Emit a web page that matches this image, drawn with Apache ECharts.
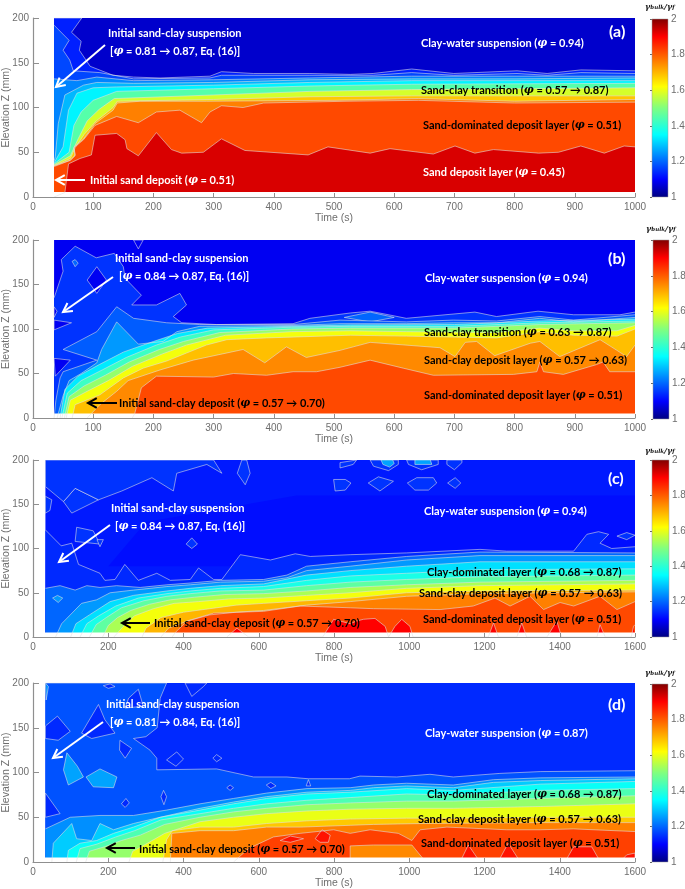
<!DOCTYPE html>
<html><head><meta charset="utf-8">
<style>html,body{margin:0;padding:0;background:#fff}#c{width:685px;height:889px}</style>
<script src="https://cdn.jsdelivr.net/npm/echarts@6/dist/echarts.min.js"></script>
</head><body><div id="c"></div>
<script>
// ---------- colour scale ----------
const colorStops = [[1,'#000080'],[1.1,'#0000ff'],[1.35,'#00ffff'],[1.5,'#80ff80'],[1.62,'#ffff00'],[1.9,'#ff0000'],[2,'#800000']];
const barTicks = [1,1.2,1.4,1.6,1.8,2];

// ---------- panel (a): contour elevation Z(t) ----------
const A_1=[[35,200],[81,200],[64,184],[80,174],[77,164],[90,151],[95,146],[133,136],[167,134],[211,133],[294,135],[313,140],[366,138],[460,138],[527,137],[565,138],[629,143],[699,138],[804,141],[854,138],[910,142],[1000,141]];
const A_2=[[35,192],[60,175],[50,164],[61,153],[67,141],[111,139],[167,132],[294,133],[313,136],[460,136],[565,136],[629,139],[699,136],[804,138],[854,136],[910,139],[1000,138]];
const A_3=[[35,132],[73,130],[106,134],[167,130],[300,131],[460,133],[629,135],[804,135],[1000,135]];
const A_4=[[35,40],[37,45],[42,82],[53,114],[84,125],[106,128],[167,127],[300,128],[460,131],[629,132],[804,132],[1000,133]];
const A_5=[[35,38],[50,56],[59,97],[73,116],[100,122],[139,123],[300,125],[460,128],[629,130],[804,130],[1000,130]];
const A_6=[[35,37],[60,50],[68,80],[80,95],[100,108],[139,118],[300,121],[460,124],[629,126],[1000,127]];
const A_7=[[35,36],[62,46],[75,65],[90,85],[110,98],[135,110],[300,114],[460,118],[629,120],[1000,122]];
const A_8=[[35,35],[62,43],[70,55],[85,70],[105,85],[133,100],[140,107],[300,109],[460,112],[629,113],[1000,113]];
const A_9=[[35,35],[62,41],[70,47],[68,56],[84,65],[103,82],[133,97],[140,105],[178,107],[288,107],[500,108],[640,110],[800,107],[1000,109]];
const A_10=[[35,34],[62,41],[70,46],[68,55],[84,64],[103,80],[139,90],[175,83],[205,95],[244,97],[280,83],[294,95],[313,102],[349,100],[383,105],[520,107],[640,108],[800,105],[1000,106]];
const A_11=[[35,0],[53,5],[59,37],[78,43],[97,47],[103,69],[139,71],[153,64],[156,54],[175,46],[205,72],[230,53],[247,49],[283,50],[313,65],[352,52],[457,47],[490,56],[510,54],[560,49],[593,54],[665,48],[701,57],[734,49],[765,53],[840,49],[873,50],[910,57],[949,49],[982,57],[1000,56]];
const layersA=[[1.13,A_1],[1.17,A_2],[1.23,A_3],[1.28,A_4],[1.34,A_5],[1.45,A_6],[1.58,A_7],[1.68,A_8],[1.76,A_9],[1.82,A_10],[1.93,A_11]];

// ---------- panel (b) ----------
const B_1=[[35,135],[50,165],[47,178],[70,193],[105,180],[135,185],[150,170],[153,157],[180,138],[164,127],[205,127],[244,140],[255,127],[233,114],[247,107],[305,105],[432,106],[460,112],[527,118],[560,120],[598,115],[620,112],[734,119],[770,114],[839,120],[898,116],[975,116],[1000,119]];
const B_holes=[[[90,155],[106,170],[122,155],[106,140]],[[167,200],[183,200],[175,190]],[[35,110],[64,107],[35,99]],[[35,67],[62,65],[37,47]],[[35,125],[40,120],[35,113]]];
const B_lobes=[[[517,113],[560,119],[600,113],[560,108]],[[535,106],[554,107],[573,106],[554,104]],[[65,176],[70,178],[75,174],[70,170]]];
const B_2=[[35,0],[38,20],[45,45],[50,52],[106,65],[50,77],[106,97],[139,125],[167,112],[222,107],[277,105],[432,105],[510,110],[620,108],[698,110],[770,109],[842,114],[898,110],[1000,116]];
const B_3=[[40,0],[50,25],[60,42],[80,50],[106,62],[114,77],[139,108],[175,83],[216,86],[239,97],[277,103],[432,104],[510,106],[620,106],[698,107],[770,107],[842,112],[898,108],[1000,113]];
const B_4=[[45,0],[53,32],[75,47],[110,60],[150,74],[200,86],[240,95],[290,101],[430,103],[527,104.5],[700,105],[842,109],[1000,111]];
const B_5=[[48,0],[57,28],[80,42],[115,54],[155,68],[205,82],[245,91],[300,99],[430,102],[527,103],[700,103],[842,107],[1000,109]];
const B_6=[[52,0],[60,24],[85,36],[120,48],[160,63],[210,77],[250,86],[310,96],[430,100],[527,101],[700,101],[842,105],[1000,107]];
const B_7=[[55,0],[62,20],[90,30],[125,42],[165,58],[215,72],[255,82],[320,93],[430,97],[527,98],[620,97],[770,96],[842,101],[898,98],[970,98],[1000,104]];
const B_8=[[65,0],[70,15],[111,26],[150,45],[183,56],[222,64],[255,73],[288,82],[322,88],[388,90],[527,93],[620,92],[770,90],[842,97],[898,93],[970,92],[1000,100]];
const B_9=[[90,0],[111,15],[139,30],[158,42],[211,54],[266,65],[349,77],[385,62],[421,80],[454,68],[510,76],[560,85],[676,79],[701,69],[718,85],[737,86],[767,70],[826,84],[842,86],[875,69],[942,88],[970,76],[986,69],[1000,82]];
const B_10=[[165,0],[169,5],[180,34],[205,47],[300,46],[333,50],[388,48],[432,52],[471,52],[510,57],[560,65],[615,56],[665,48],[798,49],[837,52],[842,63],[848,52],[881,49],[936,60],[947,63],[958,52],[1000,52]];
const layersB=[[1.15,B_1],[1.09,B_holes,1],[1.2,B_lobes,1],[1.19,B_2],[1.25,B_3],[1.33,B_4],[1.42,B_5],[1.52,B_6],[1.61,B_7],[1.69,B_8],[1.75,B_9],[1.82,B_10]];

// ---------- panel (c) ----------
const C_shade=[[200,80],[1600,80],[1600,160],[700,160],[300,130]];
const C_1=[[33,121],[75,103],[103,106],[121,82],[178,72],[191,64],[218,65],[244,82],[280,64],[329,72],[365,64],[418,65],[440,78],[480,65],[502,65],[551,93],[631,87],[697,94],[737,91],[843,93],[993,95],[1188,99],[1259,97],[1437,97],[1472,116],[1503,119],[1530,116],[1507,106],[1538,100],[1600,102]];
const C_blobs=[[[81,153],[112,168],[174,155],[103,140]],[[174,155],[236,165],[316,180],[373,165],[382,185],[462,195],[502,185],[480,200],[33,200],[33,170],[81,153],[112,168]],[[33,159],[50,155],[45,143],[33,140]],[[116,124],[160,120],[178,105],[112,108]],[[170,110],[187,110],[178,102]],[[422,112],[437,105],[422,100],[407,105]],[[568,200],[577,185],[564,172],[543,185],[555,200]],[[816,197],[860,200],[851,195],[816,191]],[[896,200],[905,193],[945,188],[971,195],[971,200]],[[993,200],[998,195],[1033,189],[1077,195],[1077,200]],[[1100,200],[1100,195],[1120,189],[1140,197],[1140,200]],[[799,178],[830,178],[845,174],[830,166],[803,165]],[[891,174],[918,181],[958,176],[922,165]],[[995,174],[1020,180],[1064,180],[1073,174],[1051,166],[1015,166]],[[1102,174],[1122,180],[1137,174],[1122,168]],[[1552,114],[1578,118],[1600,115],[1578,110]]];
const C_spots=[[[925,200],[930,195],[948,192],[960,196],[956,200]],[[1015,200],[1015,195],[1060,195],[1056,200]]];
const C_2=[[33,55],[72,58],[112,53],[143,58],[178,56],[222,58],[285,56],[356,59],[418,61],[498,64],[613,65],[675,70],[727,80],[843,85],[993,91],[1188,96],[1600,95]];
const C_3=[[60,0],[76,15],[129,38],[169,42],[205,50],[267,53],[356,57],[418,59],[498,62],[613,63],[675,67],[727,75],[843,80],[993,87],[1188,92],[1600,92]];
const C_spot2=[[[52,44],[65,47],[79,44],[67,39]]];
const C_4=[[100,0],[114,15],[150,25],[205,40],[267,47],[356,52],[418,55],[498,58],[613,60],[727,70],[843,75],[993,80],[1188,85],[1600,85]];
const C_5=[[125,0],[143,15],[175,24],[220,35],[280,44],[356,49],[418,52],[498,55],[613,57],[727,64],[843,69],[993,72],[1188,76],[1600,77]];
const C_6=[[150,0],[168,14],[195,22],[235,33],[295,41],[356,46],[418,49],[498,52],[613,53],[727,58],[843,62],[993,65],[1188,68],[1600,70]];
const C_7=[[185,0],[200,13],[225,22],[260,30],[310,37],[365,42],[430,45],[510,48],[613,49],[727,52],[843,56],[993,59],[1188,62],[1600,64]];
const C_8=[[215,0],[240,12],[270,24],[320,32],[375,38],[440,40],[520,43],[613,44],[727,47],[843,50],[993,55],[1188,58],[1600,60]];
const C_9=[[290,0],[300,10],[340,22],[400,28],[470,32],[540,36],[613,38],[727,41],[843,44],[993,50],[1188,52],[1600,53]];
const C_10=[[340,0],[360,10],[410,18],[470,25],[540,28],[613,30],[727,36],[843,40],[993,46],[1188,49],[1600,51]];
const C_11=[[370,0],[378,5],[409,18],[480,27],[613,29],[710,35],[843,33],[905,32],[1082,31],[1170,35],[1228,44],[1268,35],[1321,46],[1357,31],[1401,39],[1437,35],[1507,46],[1552,31],[1600,40]];
const C_12=[[515,0],[542,10],[573,0],[770,0],[799,20],[843,15],[860,18],[878,20],[909,21],[936,12],[945,0],[950,0],[962,12],[980,20],[1002,12],[1010,0],[1210,0],[1224,16],[1237,0],[1286,0],[1299,16],[1312,0],[1366,0],[1392,18],[1405,0],[1499,0],[1507,14],[1521,0],[1590,0],[1596,12],[1600,14]];
const layersC=[[1.113,[C_shade],2],[1.14,C_1],[1.15,C_blobs,1],[1.26,C_spots,1],[1.2,C_2],[1.25,C_3],[1.25,C_spot2,1],[1.32,C_4],[1.38,C_5],[1.46,C_6],[1.54,C_7],[1.61,C_8],[1.7,C_9],[1.76,C_10],[1.82,C_11],[1.9,C_12]];

// ---------- panel (d) ----------
const D_1=[[33,200],[355,200],[338,183],[330,150],[300,140],[267,138],[311,125],[329,116],[329,103],[488,104],[586,95],[675,95],[732,93],[841,93],[869,96],[967,95],[1055,98],[1117,95],[1241,99],[1348,101],[1600,102]];
const D_holes=[[[33,152],[65,163],[99,146],[67,136],[33,138]],[[129,144],[174,176],[191,159],[218,144],[156,138]],[[231,136],[262,127],[245,116],[230,125]],[[33,77],[72,54],[33,50]],[[355,114],[382,123],[400,115],[380,107]],[[478,116],[488,120],[502,116],[488,112]],[[247,71],[235,65],[245,61],[256,66]],[[347,80],[340,73],[348,64],[355,73]],[[515,83],[524,86],[533,83],[524,80]],[[620,86],[632,89],[646,85],[632,82]],[[726,85],[732,92],[738,85]],[[187,197],[205,199],[218,196],[200,194]],[[254,183],[280,193],[293,174],[245,172]],[[404,200],[422,185],[453,196],[462,200]]];
const D_lobes=[[[81,103],[90,122],[118,107],[134,95],[94,86]],[[141,95],[178,104],[223,95],[214,83],[160,84]]];
const D_corner=[[[33,200],[41,196],[35,181]]];
const D_2=[[33,37],[99,50],[178,52],[267,52],[355,58],[444,65],[533,71],[621,77],[728,82],[843,83],[905,86],[993,88],[1117,86],[1224,92],[1348,94],[1600,95]];
const D_3=[[50,0],[54,21],[103,43],[116,26],[156,24],[178,43],[214,36],[267,43],[338,50],[444,60],[533,67],[621,73],[728,78],[843,80],[905,83],[993,85],[1117,83],[1224,89],[1348,91],[1600,93]];
const D_4=[[90,0],[94,13],[125,21],[169,24],[214,32],[267,39],[338,50],[444,58],[533,65],[621,71],[728,76],[843,78],[993,82],[1117,80],[1348,87],[1600,90]];
const D_5=[[115,0],[125,15],[170,20],[220,28],[270,35],[340,47],[444,54],[533,60],[621,65],[728,69],[843,72],[993,76],[1117,75],[1348,80],[1600,82]];
const D_6=[[140,0],[150,12],[190,17],[235,24],[285,30],[350,42],[444,50],[533,56],[621,60],[728,64],[843,66],[993,68],[1117,68],[1348,71],[1600,74]];
const D_7=[[255,0],[265,12],[300,20],[350,32],[444,45],[533,50],[621,54],[728,57],[843,59],[993,60],[1117,60],[1348,62],[1600,65]];
const D_8=[[345,0],[355,25],[370,35],[444,39],[533,39],[621,43],[728,46],[843,48],[993,49],[1117,49],[1348,50],[1600,50]];
const D_9=[[365,0],[369,32],[444,35],[533,35],[621,39],[710,39],[843,41],[905,42],[1038,43],[1348,44],[1600,44]];
const D_10=[[533,0],[573,15],[639,28],[710,32],[799,36],[843,32],[896,36],[971,32],[1007,24],[1029,36],[1100,39],[1259,36],[1348,36],[1437,37],[1600,34]];
const D_under=[[[843,18],[905,19],[1007,19],[1040,2],[843,2]]];
const D_red=[[[1135,0],[1157,19],[1188,0]],[[1236,0],[1263,21],[1295,0]],[[1414,0],[1437,17],[1485,17],[1508,0]],[[1560,0],[1578,8],[1600,10],[1600,0]],[[657,24],[684,29],[719,26],[684,22]],[[750,26],[768,36],[790,30],[785,22],[763,22]]];
const layersD=[[1.18,D_1],[1.14,D_holes,1],[1.26,D_lobes,1],[1.24,D_corner,1],[1.24,D_2],[1.3,D_3],[1.36,D_4],[1.44,D_5],[1.52,D_6],[1.6,D_7],[1.68,D_8],[1.76,D_9],[1.83,D_10],[1.75,D_under,1],[1.88,D_red,1]];

// ---------- labels ----------
const white='#ffffff', black='#000000';
const notesA=[['Initial sand-clay suspension',108,33,white],['[{p|φ} = 0.81 → 0.87, Eq. (16)]',110,51,white],['Initial sand deposit ({p|φ} = 0.51)',90,180,white],['Clay-water suspension ({p|φ} = 0.94)',421,43,white],['Sand-clay transition ({p|φ} = 0.57 → 0.87)',421,90,black],['Sand-dominated deposit layer ({p|φ} = 0.51)',423,125,black],['Sand deposit layer ({p|φ} = 0.45)',423,172,white]];
const notesB=[['Initial sand-clay suspension',115,258,white],['[{p|φ} = 0.84 → 0.87, Eq. (16)]',119,276,white],['Initial sand-clay deposit ({p|φ} = 0.57 → 0.70)',119,403,black],['Clay-water suspension ({p|φ} = 0.94)',425,278,white],['Sand-clay transition ({p|φ} = 0.63 → 0.87)',424,332,black],['Sand-clay deposit layer ({p|φ} = 0.57 → 0.63)',424,360,black],['Sand-dominated deposit layer ({p|φ} = 0.51)',424,395,black]];
const notesC=[['Initial sand-clay suspension',111,508,white],['[{p|φ} = 0.84 → 0.87, Eq. (16)]',115,526,white],['Initial sand-clay deposit ({p|φ} = 0.57 → 0.70)',154,623,black],['Clay-water suspension ({p|φ} = 0.94)',424,511,white],['Clay-dominated layer ({p|φ} = 0.68 → 0.87)',427,572,black],['Sand-clay deposit layer ({p|φ} = 0.57 → 0.63)',419,593,black],['Sand-dominated deposit layer ({p|φ} = 0.51)',423,619,black]];
const notesD=[['Initial sand-clay suspension',106,704,white],['[{p|φ} = 0.81 → 0.84, Eq. (16)]',110,722,white],['Initial sand-clay deposit ({p|φ} = 0.57 → 0.70)',139,849,black],['Clay-water suspension ({p|φ} = 0.87)',425,733,white],['Clay-dominated layer ({p|φ} = 0.68 → 0.87)',427,794,black],['Sand-clay deposit layer ({p|φ} = 0.57 → 0.63)',418,819,black],['Sand-dominated deposit layer ({p|φ} = 0.51)',421,843,black]];
const arrowsAll=[[105,45,56,87,white],[85,180,56,180,white],[113,277,63,312,white],[117,403,88,403,black],[110,525,59,562,white],[150,623,122,623,black],[103,722,53,758,white],[135,848,107,848,black]];

const panels=[
 {name:'(a)',top:18,h:179,xMax:1000,xStep:100,base:1.06,t0:35,floor:5.5,layers:layersA,notes:notesA,tag:[609,32],bar:[652,19,16,178],hdr:[645,7]},
 {name:'(b)',top:240,h:178,xMax:1000,xStep:100,base:1.09,t0:35,floor:5,layers:layersB,notes:notesB,tag:[608,259],bar:[653,240,16,179],hdr:[646,229]},
 {name:'(c)',top:460,h:177,xMax:1600,xStep:200,base:1.125,t0:33,floor:5,layers:layersC,notes:notesC,tag:[608,479],bar:[652,460,17,177],hdr:[645,451]},
 {name:'(d)',top:683,h:179,xMax:1600,xStep:200,base:1.14,t0:33,floor:5,layers:layersD,notes:notesD,tag:[608,705],bar:[652,684,16,178],hdr:[645,673]}
];

// ---------- helpers ----------
function hex(c){return [1,3,5].map(i=>parseInt(c.substr(i,2),16));}
function colorOf(v){
  for(let i=1;i<colorStops.length;i++){
    if(v<=colorStops[i][0]){
      const [a,ca]=colorStops[i-1],[b,cb]=colorStops[i],f=(v-a)/(b-a);
      const A=hex(ca),B=hex(cb);
      return 'rgb('+A.map((x,k)=>Math.round(x+(B[k]-x)*f)).join(',')+')';
    }
  }
  return colorStops[colorStops.length-1][1];
}
const lineCol='rgba(226,226,226,0.72)';
const axisCol='#8f8f8f', labCol='#6e6e6e';
const grids=[],xAxes=[],yAxes=[],series=[],graphics=[];

function polySeries(idx,fill,polys,noStroke){
  return {type:'custom',z:3,xAxisIndex:idx,yAxisIndex:idx,clip:true,silent:true,
    data:polys.map((_,i)=>[i]),
    renderItem:(p,api)=>({type:'polygon',shape:{points:polys[api.value(0)].map(q=>api.coord(q))},
      style:{fill:colorOf(fill),stroke:noStroke?null:lineCol,lineWidth:0.8}})};
}
function lineSeries(idx,fill,pts,noLine){
  return {type:'line',z:3,xAxisIndex:idx,yAxisIndex:idx,data:pts,showSymbol:false,symbol:'none',silent:true,clip:true,
    smooth:false,lineStyle:noLine?{width:0,opacity:0}:{color:lineCol,width:0.8},
    areaStyle:{color:colorOf(fill),opacity:1,origin:'start'},itemStyle:{color:colorOf(fill)}};
}

panels.forEach((P,i)=>{
  grids.push({left:33,width:602,top:P.top,height:P.h,containLabel:false,outerBoundsMode:'none'});
  xAxes.push({type:'value',gridIndex:i,min:0,max:P.xMax,interval:P.xStep,z:6,
    name:'Time (s)',nameLocation:'middle',nameGap:16,nameMoveOverlap:false,nameTextStyle:{color:labCol,fontSize:10.5,fontFamily:'Liberation Sans'},
    axisLine:{onZero:false,lineStyle:{color:axisCol,width:1.2}},axisTick:{inside:true,length:4,lineStyle:{color:axisCol}},
    axisLabel:{color:labCol,fontSize:10,fontFamily:'Liberation Sans',margin:5,formatter:v=>String(v)},splitLine:{show:false}});
  yAxes.push({type:'value',gridIndex:i,min:0,max:200,interval:50,z:6,
    name:'Elevation Z (mm)',nameLocation:'middle',nameGap:21,nameRotate:90,nameMoveOverlap:false,nameTextStyle:{color:labCol,fontSize:10.5,fontFamily:'Liberation Sans'},
    axisLine:{onZero:false,lineStyle:{color:axisCol,width:1.2}},axisTick:{inside:true,length:6,lineStyle:{color:axisCol}},
    axisLabel:{color:labCol,fontSize:10,fontFamily:'Liberation Sans',margin:4},splitLine:{show:false}});
  // background band, then contours from lowest to highest value
  series.push(lineSeries(i,P.base,[[P.t0,200],[P.xMax,200]],true));
  P.layers.forEach(l=>{
    if(l[2]) series.push(polySeries(i,l[0],l[1],l[2]===2));
    else series.push(lineSeries(i,l[0],l[1]));
  });
  // data stop just above the bottom of the tank
  series.push({type:'custom',z:3,xAxisIndex:i,yAxisIndex:i,silent:true,clip:true,data:[[0]],
    renderItem:(p,api)=>{
      const a=api.coord([0,P.floor]),b=api.coord([P.xMax,0]);
      return {type:'rect',shape:{x:a[0],y:a[1],width:b[0]-a[0]+1,height:b[1]-a[1]},style:{fill:'#fff'}};
    }});
});

// colour bars
panels.forEach((P,i)=>{
  const k=panels.length+i,[bx,by,bw,bh]=P.bar;
  grids.push({left:bx,top:by,width:bw,height:bh,outerBoundsMode:'none'});
  xAxes.push({type:'value',gridIndex:k,min:0,max:1,show:false});
  yAxes.push({type:'value',gridIndex:k,min:barTicks[0],max:barTicks[barTicks.length-1],interval:0.2,position:'right',
    axisLine:{show:false},axisTick:{inside:true,length:2,lineStyle:{color:'#666'}},splitLine:{show:false},
    axisLabel:{color:labCol,fontSize:10,fontFamily:'Liberation Sans',margin:3,formatter:v=>String(+v.toFixed(1))}});
  series.push({type:'custom',xAxisIndex:k,yAxisIndex:k,silent:true,data:[[0,1,2]],
    renderItem:(p,api)=>{
      const a=api.coord([0,api.value(2)]),b=api.coord([api.value(1),1]);
      return {type:'rect',shape:{x:a[0],y:a[1],width:b[0]-a[0],height:b[1]-a[1]},
        style:{stroke:'#999',lineWidth:0.5,fill:new echarts.graphic.LinearGradient(0,1,0,0,colorStops.map(s=>({offset:s[0]-1,color:s[1]})))}};
    }});
  graphics.push({type:'text',x:P.hdr[0],y:P.hdr[1],z:100,silent:true,style:{
    text:'{g|γ}{s|bulk}{g|/γ}{s|f}',
    rich:{g:{font:'italic bold 8px "DejaVu Serif"',fill:'#111'},s:{font:'italic bold 5.5px "DejaVu Serif"',fill:'#111',verticalAlign:'bottom'}},
    verticalAlign:'middle'}});
  graphics.push({type:'text',x:P.tag[0],y:P.tag[1],z:100,silent:true,style:{text:P.name,font:'bold 16px Lato',fill:'#fff',verticalAlign:'middle'}});
  P.notes.forEach(n=>{
    graphics.push({type:'text',x:n[1],y:n[2],z:100,silent:true,style:{
      text:n[0],fill:n[3],font:'bold 11px Lato',verticalAlign:'middle',
      rich:{p:{font:'italic bold 11px "DejaVu Serif"',fill:n[3]}}}});
  });
});

// arrows
arrowsAll.forEach(a=>{
  const [x1,y1,x2,y2,c]=a, ang=Math.atan2(y1-y2,x1-x2), L=10, sp=0.5;
  graphics.push({type:'polyline',z:100,silent:true,shape:{points:[[x1,y1],[x2,y2]]},style:{stroke:c,lineWidth:2,fill:null}});
  graphics.push({type:'polyline',z:100,silent:true,shape:{points:[
    [x2+L*Math.cos(ang+sp),y2+L*Math.sin(ang+sp)],[x2,y2],[x2+L*Math.cos(ang-sp),y2+L*Math.sin(ang-sp)]]},
    style:{stroke:c,lineWidth:2,fill:null}});
});

const chart=echarts.init(document.getElementById('c'),null,{renderer:'canvas',width:685,height:889});
chart.setOption({animation:false,backgroundColor:'#fff',grid:grids,xAxis:xAxes,yAxis:yAxes,series,graphic:graphics});
</script></body></html>
